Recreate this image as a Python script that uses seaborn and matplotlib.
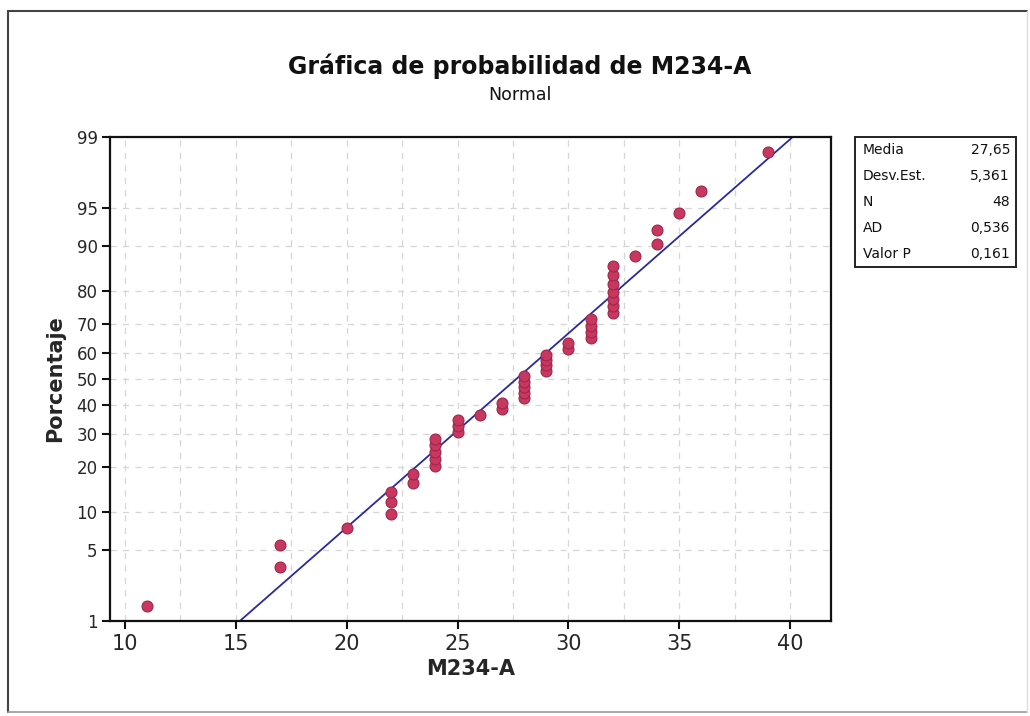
import numpy as np
import pandas as pd
import matplotlib
matplotlib.use("Agg")
import matplotlib.pyplot as plt
import seaborn as sns
from matplotlib.lines import Line2D
from statistics import NormalDist

# Observed values of M234-A and how many times each occurs
values = [11, 17, 20, 22, 23, 24, 25, 26, 27, 28, 29, 30, 31, 32, 33, 34, 35, 36, 39]
counts = [1, 2, 1, 3, 2, 5, 3, 1, 2, 5, 4, 2, 4, 7, 1, 2, 1, 1, 1]

# Summary statistics shown in the side table
stat_names = ["Media", "Desv.Est.", "N", "AD", "Valor P"]
stat_values = ["27,65", "5,361", "48", "0,536", "0,161"]
mean_fit = 27.65
sd_fit = 5.361

y_ticks_pct = [1, 5, 10, 20, 30, 40, 50, 60, 70, 80, 90, 95, 99]
x_ticks = [10, 15, 20, 25, 30, 35, 40]

nd = NormalDist()
data = np.repeat(values, counts).astype(float)
n = len(data)
ranks = np.arange(1, n + 1)
pos = (ranks - 0.3) / (n + 0.4)          # median-rank plotting positions
df = pd.DataFrame({"M234-A": np.sort(data), "z": [nd.inv_cdf(p) for p in pos]})

z_lo, z_hi = nd.inv_cdf(0.01), nd.inv_cdf(0.99)
z_line = np.linspace(z_lo, z_hi, 50)
line_df = pd.DataFrame({"x": mean_fit + sd_fit * z_line, "z": z_line})

sns.set_theme(style="white")
plt.rcParams["font.family"] = ["DejaVu Sans"]

fig = plt.figure(figsize=(10.30, 7.16), dpi=100)
ax = fig.add_axes([110 / 1030, 1 - 621 / 716, (831 - 110) / 1030, (621 - 137) / 716])

# dashed grid: every 2.5 on x, every tick on y
for gx in np.arange(10, 42.5, 2.5):
    ax.axvline(gx, color="#d6d6d6", lw=0.9, ls=(0, (5, 5)), zorder=0)
for p in y_ticks_pct[1:-1]:
    ax.axhline(nd.inv_cdf(p / 100), color="#d6d6d6", lw=0.9, ls=(0, (5, 5)), zorder=0)

sns.lineplot(data=line_df, x="x", y="z", color="#2a2a9c", lw=1.3, ax=ax, zorder=2)
sns.scatterplot(data=df, x="M234-A", y="z", s=62, color="#c8375f",
                edgecolor="#a02649", linewidth=0.8, ax=ax, zorder=3)

ax.set_xlim(9.32, 41.85)
ax.set_ylim(z_lo, z_hi)
ax.set_xticks(x_ticks)
ax.set_xticklabels([str(t) for t in x_ticks], fontsize=15)
ax.set_yticks([nd.inv_cdf(p / 100) for p in y_ticks_pct])
ax.set_yticklabels([str(p) for p in y_ticks_pct], fontsize=12)
ax.tick_params(axis="both", direction="out", length=6, width=1.5, color="#111111",
               bottom=True, left=True, pad=3)
for s in ax.spines.values():
    s.set_color("#111111")
    s.set_linewidth(1.6)
ax.set_xlabel("M234-A", fontsize=15, fontweight="bold", labelpad=4)
ax.set_ylabel("Porcentaje", fontsize=15, fontweight="bold", labelpad=8)

fig.text(520 / 1030, 1 - 66 / 716, "Gráfica de probabilidad de M234-A",
         ha="center", va="center", fontsize=17, fontweight="bold", color="#111111")
fig.text(520 / 1030, 1 - 95 / 716, "Normal", ha="center", va="center",
         fontsize=12.5, color="#111111")

# side table with summary statistics
bx0, bx1, by0, by1 = 855, 1016, 137, 267
fig.add_artist(plt.Rectangle((bx0 / 1030, 1 - by1 / 716), (bx1 - bx0) / 1030,
                             (by1 - by0) / 716, transform=fig.transFigure,
                             fill=False, edgecolor="#222222", lw=1.4))
row_h = (by1 - by0) / len(stat_names)
for i, (name, val) in enumerate(zip(stat_names, stat_values)):
    yy = 1 - (by0 + row_h * (i + 0.5)) / 716
    fig.text((bx0 + 8) / 1030, yy, name, ha="left", va="center", fontsize=10, color="#111111")
    fig.text((bx1 - 6) / 1030, yy, val, ha="right", va="center", fontsize=10, color="#111111")

# outer frame of the graph window
fr = dict(transform=fig.transFigure)
fig.add_artist(Line2D([8 / 1030, 8 / 1030], [1 - 11 / 716, 1 - 712 / 716], color="#444444", lw=1.5, **fr))
fig.add_artist(Line2D([8 / 1030, 1027 / 1030], [1 - 11 / 716, 1 - 11 / 716], color="#444444", lw=1.5, **fr))
fig.add_artist(Line2D([8 / 1030, 1027 / 1030], [1 - 712 / 716, 1 - 712 / 716], color="#999999", lw=1.2, **fr))
fig.add_artist(Line2D([1027 / 1030, 1027 / 1030], [1 - 11 / 716, 1 - 712 / 716], color="#dddddd", lw=1.0, **fr))

fig.savefig("out.png", dpi=100, facecolor="white")
